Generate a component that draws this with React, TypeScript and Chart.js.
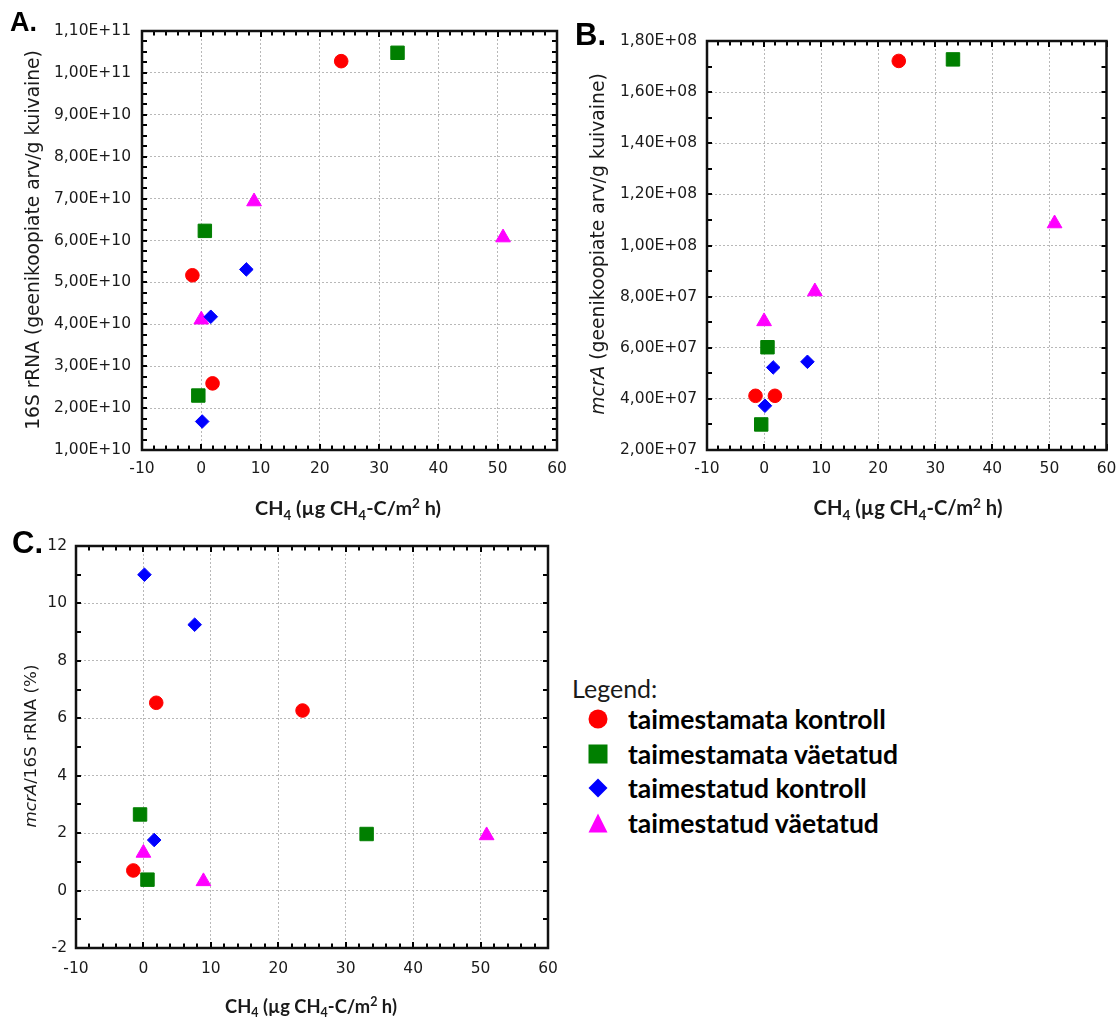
import React, { useEffect, useRef } from 'react';
import { Chart, registerables } from 'chart.js';

Chart.register(...registerables);

// ---------------- data ----------------
const SERIES_NAMES = ['taimestamata kontroll', 'taimestamata väetatud', 'taimestatud kontroll', 'taimestatud väetatud'];
const SERIES_COLORS = ['#ff0000', '#007f00', '#0000ff', '#ff00ff'];
const SERIES_STYLES = ['circle', 'rect', 'rectRot', 'triangle'];
const SERIES_RADII = [6.8, 9.5, 6.8, 8.5];

// CH4 flux (x) per sample, same in every panel
const CH4_TK = [23.6, -1.5, 1.9]; // taimestamata kontroll
const CH4_TV = [33.1, 0.6, -0.5]; // taimestamata väetatud
const CH4_PK = [7.6, 1.6, 0.15]; // taimestatud kontroll
const CH4_PV = [8.9, 50.9, 0.0]; // taimestatud väetatud

// A: 16S rRNA
const A_TK = [1.028e11, 5.17e10, 2.59e10];
const A_TV = [1.048e11, 6.23e10, 2.3e10];
const A_PK = [5.31e10, 4.18e10, 1.68e10];
const A_PV = [6.93e10, 6.07e10, 4.11e10];

// B: mcrA
const B_TK = [1.722e8, 4.12e7, 4.12e7];
const B_TV = [1.728e8, 6.02e7, 3.0e7];
const B_PK = [5.45e7, 5.23e7, 3.73e7];
const B_PV = [8.2e7, 1.086e8, 7.03e7];

// C: mcrA / 16S rRNA (%)
const C_TK = [6.27, 0.7, 6.54];
const C_TV = [1.97, 0.38, 2.65];
const C_PK = [9.26, 1.76, 11.0];
const C_PV = [0.32, 1.92, 1.31];

const X_TICKS = [-10, 0, 10, 20, 30, 40, 50, 60];
const X_TICK_LABELS = ['-10', '0', '10', '20', '30', '40', '50', '60'];

const A_Y_TICKS = [1e10, 2e10, 3e10, 4e10, 5e10, 6e10, 7e10, 8e10, 9e10, 1e11, 1.1e11];
const A_Y_LABELS = ['1,00E+10', '2,00E+10', '3,00E+10', '4,00E+10', '5,00E+10', '6,00E+10', '7,00E+10', '8,00E+10', '9,00E+10', '1,00E+11', '1,10E+11'];

const B_Y_TICKS = [2e7, 4e7, 6e7, 8e7, 1e8, 1.2e8, 1.4e8, 1.6e8, 1.8e8];
const B_Y_LABELS = ['2,00E+07', '4,00E+07', '6,00E+07', '8,00E+07', '1,00E+08', '1,20E+08', '1,40E+08', '1,60E+08', '1,80E+08'];

const C_Y_TICKS = [-2, 0, 2, 4, 6, 8, 10, 12];
const C_Y_LABELS = ['-2', '0', '2', '4', '6', '8', '10', '12'];

const CH4_ALL = [CH4_TK, CH4_TV, CH4_PK, CH4_PV];

// ---------------- layout ----------------
type Part = { t: string; italic?: boolean; sub?: boolean; sup?: boolean };

const X_TITLE: Part[] = [
  { t: 'CH' }, { t: '4', sub: true }, { t: ' (µg CH' }, { t: '4', sub: true }, { t: '-C/m' }, { t: '2', sup: true }, { t: ' h)' },
];

type Panel = {
  key: string;
  label: string;
  left: number; top: number; w: number; h: number;
  area: { left: number; top: number; right: number; bottom: number };
  series: number[][];
  yTicks: number[]; yLabels: string[];
  yMinorStep: number;
  yPad: number; xPad: number;
  tickFont: number;
  yTitle: Part[]; yTitleFont: number; yTitleLen: number; yTitleX: number; yTitleY: number;
  xTitleX: number; xTitleY: number; xTitleLen: number;
  labelX: number; labelY: number; labelSize: number;
};

const PANELS: Panel[] = [
  {
    key: 'A', label: 'A.', left: 0, top: 0, w: 580, h: 520,
    area: { left: 142, top: 31, right: 557, bottom: 450 },
    series: [A_TK, A_TV, A_PK, A_PV],
    yTicks: A_Y_TICKS, yLabels: A_Y_LABELS, yMinorStep: 2.5e9, yPad: 11, xPad: 10, tickFont: 15.5,
    yTitle: [{ t: '16S rRNA (geenikoopiate arv/g kuivaine)' }], yTitleFont: 17, yTitleLen: 380, yTitleX: 32, yTitleY: 240,
    xTitleX: 348, xTitleY: 508, xTitleLen: 186,
    labelX: 10, labelY: 31, labelSize: 27,
  },
  {
    key: 'B', label: 'B.', left: 560, top: 0, w: 557, h: 520,
    area: { left: 147, top: 41, right: 548, bottom: 450 },
    series: [B_TK, B_TV, B_PK, B_PV],
    yTicks: B_Y_TICKS, yLabels: B_Y_LABELS, yMinorStep: 1e7, yPad: 10, xPad: 10, tickFont: 15.5,
    yTitle: [{ t: 'mcrA', italic: true }, { t: ' (geenikoopiate arv/g kuivaine)' }], yTitleFont: 17, yTitleLen: 342, yTitleX: 37, yTitleY: 244,
    xTitleX: 348, xTitleY: 508, xTitleLen: 189,
    labelX: 15, labelY: 45, labelSize: 31,
  },
  {
    key: 'C', label: 'C.', left: 0, top: 520, w: 560, h: 498,
    area: { left: 76, top: 26, right: 548, bottom: 428 },
    series: [C_TK, C_TV, C_PK, C_PV],
    yTicks: C_Y_TICKS, yLabels: C_Y_LABELS, yMinorStep: 1, yPad: 9, xPad: 12, tickFont: 15.5,
    yTitle: [{ t: 'mcrA', italic: true }, { t: '/16S rRNA (%)' }], yTitleFont: 13, yTitleLen: 163, yTitleX: 30, yTitleY: 226,
    xTitleX: 311, xTitleY: 486, xTitleLen: 172,
    labelX: 12, labelY: 33, labelSize: 31,
  },
];

const X_AXIS_H = 40;
const TICK_FAMILY = '"DejaVu Sans", sans-serif';

function drawRich(
  ctx: CanvasRenderingContext2D, parts: Part[], family: string, weight: string,
  baseSize: number, cx: number, cy: number, rotate: boolean, targetLen?: number,
) {
  const fontFor = (p: Part, s: number) =>
    `${p.italic ? 'italic ' : ''}${weight} ${p.sub || p.sup ? s * 0.68 : s}px ${family}`;
  const measure = (s: number) => parts.map((p) => { ctx.font = fontFor(p, s); return ctx.measureText(p.t).width; });
  let size = baseSize;
  let widths = measure(size);
  let total = widths.reduce((a, b) => a + b, 0);
  if (targetLen && total > 0) {
    size = baseSize * targetLen / total;
    widths = measure(size);
    total = widths.reduce((a, b) => a + b, 0);
  }
  ctx.save();
  ctx.translate(cx, cy);
  if (rotate) ctx.rotate(-Math.PI / 2);
  ctx.textBaseline = 'alphabetic';
  ctx.textAlign = 'left';
  ctx.fillStyle = '#1a1a1a';
  let x = -total / 2;
  const base = size * 0.36;
  parts.forEach((p, i) => {
    ctx.font = fontFor(p, size);
    const dy = p.sub ? size * 0.22 : p.sup ? -size * 0.38 : 0;
    ctx.fillText(p.t, x, base + dy);
    x += widths[i];
  });
  ctx.restore();
}

function makeDecor(p: Panel) {
  return {
    id: 'decor' + p.key,
    afterDraw(chart: any) {
      const { ctx, chartArea: ca, scales } = chart;
      const xs = scales.x;
      const ys = scales.y;
      ctx.save();
      ctx.setLineDash([]);
      ctx.strokeStyle = '#000';
      ctx.lineWidth = 2;
      // x ticks (top & bottom, inward)
      const xMin = -10, xMax = 60, xStep = 2;
      const nx = Math.round((xMax - xMin) / xStep);
      for (let i = 0; i <= nx; i++) {
        const v = xMin + i * xStep;
        const major = Math.abs(v % 10) < 1e-9;
        const len = major ? 6 : 4.5;
        const px = Math.round(xs.getPixelForValue(v));
        ctx.beginPath();
        ctx.moveTo(px, ca.bottom); ctx.lineTo(px, ca.bottom - len);
        ctx.moveTo(px, ca.top); ctx.lineTo(px, ca.top + len);
        ctx.stroke();
      }
      const yMin = p.yTicks[0], yMax = p.yTicks[p.yTicks.length - 1];
      const ny = Math.round((yMax - yMin) / p.yMinorStep);
      for (let i = 0; i <= ny; i++) {
        const v = yMin + i * p.yMinorStep;
        const py = Math.round(ys.getPixelForValue(v));
        ctx.beginPath();
        ctx.moveTo(ca.left, py); ctx.lineTo(ca.left + 5, py);
        ctx.moveTo(ca.right, py); ctx.lineTo(ca.right - 5, py);
        ctx.stroke();
      }
      // frame
      ctx.strokeStyle = '#111';
      ctx.lineWidth = 2.5;
      ctx.strokeRect(ca.left, ca.top, ca.right - ca.left, ca.bottom - ca.top);
      // axis titles
      drawRich(ctx, p.yTitle, TICK_FAMILY, 'normal', p.yTitleFont, p.yTitleX, p.yTitleY, true, p.yTitleLen);
      drawRich(ctx, X_TITLE, 'Lato, "Open Sans", sans-serif', 'bold', 18, p.xTitleX, p.xTitleY, false, p.xTitleLen);
      // panel label
      ctx.font = `bold ${p.labelSize}px "Liberation Sans", Arial, sans-serif`;
      ctx.fillStyle = '#000';
      ctx.textAlign = 'left';
      ctx.textBaseline = 'alphabetic';
      ctx.fillText(p.label, p.labelX, p.labelY);
      ctx.restore();
    },
  };
}

function buildConfig(p: Panel): any {
  const datasets = p.series.map((ys, i) => ({
    label: SERIES_NAMES[i],
    data: ys.map((v, j) => ({ x: CH4_ALL[i][j], y: v })),
    pointStyle: SERIES_STYLES[i],
    pointRadius: SERIES_RADII[i],
    pointHoverRadius: SERIES_RADII[i],
    backgroundColor: SERIES_COLORS[i],
    borderColor: SERIES_COLORS[i],
    borderWidth: 1,
  }));
  const tickFont = { family: TICK_FAMILY, size: p.tickFont };
  return {
    type: 'scatter',
    data: { datasets },
    options: {
      responsive: false,
      animation: false,
      events: [],
      layout: {
        padding: {
          left: 0,
          top: p.area.top,
          right: p.w - p.area.right,
          bottom: p.h - p.area.bottom - X_AXIS_H,
        },
      },
      plugins: { legend: { display: false }, tooltip: { enabled: false } },
      scales: {
        x: {
          type: 'linear',
          min: -10,
          max: 60,
          afterBuildTicks: (s: any) => { s.ticks = X_TICKS.map((v) => ({ value: v })); },
          afterFit: (s: any) => { s.height = X_AXIS_H; s.paddingLeft = 0; s.paddingRight = 0; },
          ticks: {
            callback: (_v: any, i: number) => X_TICK_LABELS[i],
            font: tickFont, color: '#1a1a1a', padding: p.xPad, maxRotation: 0, minRotation: 0, autoSkip: false,
          },
          grid: { color: '#b8b8b8', lineWidth: 1, drawTicks: false },
          border: { display: false, dash: [2, 2] },
        },
        y: {
          type: 'linear',
          min: p.yTicks[0],
          max: p.yTicks[p.yTicks.length - 1],
          afterBuildTicks: (s: any) => { s.ticks = p.yTicks.map((v) => ({ value: v })); },
          afterFit: (s: any) => { s.width = p.area.left; s.paddingTop = 0; s.paddingBottom = 0; },
          ticks: {
            callback: (_v: any, i: number) => p.yLabels[i],
            font: tickFont, color: '#1a1a1a', padding: p.yPad, autoSkip: false,
          },
          grid: { color: '#b8b8b8', lineWidth: 1, drawTicks: false },
          border: { display: false, dash: [2, 2] },
        },
      },
    },
    plugins: [makeDecor(p)],
  };
}

function PanelChart({ p }: { p: Panel }) {
  const ref = useRef<HTMLCanvasElement | null>(null);
  useEffect(() => {
    if (!ref.current) return;
    const chart = new Chart(ref.current, buildConfig(p));
    return () => chart.destroy();
  }, [p]);
  return (
    <canvas
      ref={ref}
      width={p.w}
      height={p.h}
      style={{ position: 'absolute', left: p.left, top: p.top, width: p.w, height: p.h }}
    />
  );
}

function Marker({ i }: { i: number }) {
  const c = SERIES_COLORS[i];
  const s = SERIES_STYLES[i];
  return (
    <svg width={20} height={20} viewBox="0 0 20 20" style={{ display: 'block' }}>
      {s === 'circle' && <circle cx={10} cy={10} r={9.5} fill={c} />}
      {s === 'rect' && <rect x={0.5} y={0.5} width={19} height={19} fill={c} />}
      {s === 'rectRot' && <polygon points="10,0.5 19.5,10 10,19.5 0.5,10" fill={c} />}
      {s === 'triangle' && <polygon points="10,0.5 19.5,19.5 0.5,19.5" fill={c} />}
    </svg>
  );
}

const LEGEND_ROWS_Y = [719, 754, 788, 823];

export default function App() {
  return (
    <div style={{ position: 'absolute', left: 0, top: 0, width: 1117, height: 1018, background: '#fff', overflow: 'hidden' }}>
      {PANELS.map((p) => <PanelChart key={p.key} p={p} />)}
      <div style={{ position: 'absolute', left: 572, top: 688, transform: 'translateY(-50%)', font: '25px Lato, "Open Sans", sans-serif', color: '#1a1a1a', whiteSpace: 'nowrap', lineHeight: 1 }}>
        Legend:
      </div>
      {SERIES_NAMES.map((name, i) => (
        <React.Fragment key={name}>
          <div style={{ position: 'absolute', left: 588, top: LEGEND_ROWS_Y[i] - 10 }}>
            <Marker i={i} />
          </div>
          <div style={{ position: 'absolute', left: 628, top: LEGEND_ROWS_Y[i], transform: 'translateY(-50%)', font: 'bold 26.5px Lato, "Open Sans", sans-serif', color: '#000', whiteSpace: 'nowrap', lineHeight: 1 }}>
            {name}
          </div>
        </React.Fragment>
      ))}
    </div>
  );
}
